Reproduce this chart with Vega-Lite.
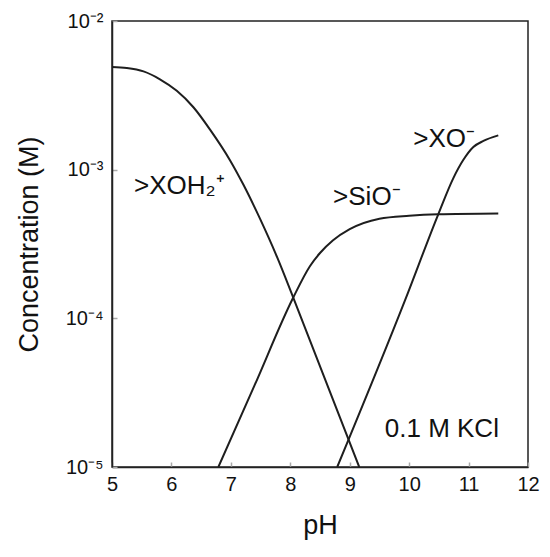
{
  "$schema": "https://vega.github.io/schema/vega-lite/v6.json",
  "description": "Surface species concentration versus pH, 0.1 M KCl",
  "width": 416,
  "height": 446,
  "autosize": {"type": "none"},
  "padding": {"left": 112, "top": 21, "right": 22, "bottom": 90},
  "background": "white",
  "datasets": {
    "curves": [
      {"species": "XOH2+", "pH": 5.0, "conc": 0.00491},
      {"species": "XOH2+", "pH": 5.25, "conc": 0.00483},
      {"species": "XOH2+", "pH": 5.53, "conc": 0.00458},
      {"species": "XOH2+", "pH": 5.8, "conc": 0.00407},
      {"species": "XOH2+", "pH": 6.09, "conc": 0.00339},
      {"species": "XOH2+", "pH": 6.37, "conc": 0.00263},
      {"species": "XOH2+", "pH": 6.65, "conc": 0.00186},
      {"species": "XOH2+", "pH": 6.99, "conc": 0.00115},
      {"species": "XOH2+", "pH": 7.21, "conc": 0.000794},
      {"species": "XOH2+", "pH": 7.49, "conc": 0.000468},
      {"species": "XOH2+", "pH": 7.78, "conc": 0.000257},
      {"species": "XOH2+", "pH": 8.05, "conc": 0.000138},
      {"species": "XOH2+", "pH": 9.16, "conc": 0.00001},
      {"species": "SiO-", "pH": 6.79, "conc": 0.00001},
      {"species": "SiO-", "pH": 7.4, "conc": 0.0000355},
      {"species": "SiO-", "pH": 8.05, "conc": 0.000138},
      {"species": "SiO-", "pH": 8.33, "conc": 0.000224},
      {"species": "SiO-", "pH": 8.5, "conc": 0.000275},
      {"species": "SiO-", "pH": 8.72, "conc": 0.000335},
      {"species": "SiO-", "pH": 9.0, "conc": 0.000398},
      {"species": "SiO-", "pH": 9.5, "conc": 0.000468},
      {"species": "SiO-", "pH": 10.0, "conc": 0.00049},
      {"species": "SiO-", "pH": 10.49, "conc": 0.000501},
      {"species": "SiO-", "pH": 11.5, "conc": 0.000507},
      {"species": "XO-", "pH": 8.79, "conc": 0.00001},
      {"species": "XO-", "pH": 9.93, "conc": 0.000132},
      {"species": "XO-", "pH": 10.49, "conc": 0.000501},
      {"species": "XO-", "pH": 10.74, "conc": 0.000871},
      {"species": "XO-", "pH": 10.91, "conc": 0.00116},
      {"species": "XO-", "pH": 11.08, "conc": 0.00142},
      {"species": "XO-", "pH": 11.25, "conc": 0.00156},
      {"species": "XO-", "pH": 11.5, "conc": 0.0017}
    ],
    "labels": [
      {"text": ">XOH₂⁺", "pH": 5.37, "conc": 0.000684},
      {"text": ">SiO⁻", "pH": 8.72, "conc": 0.000577},
      {"text": ">XO⁻", "pH": 10.07, "conc": 0.00141},
      {"text": "0.1 M KCl", "pH": 9.59, "conc": 0.0000159}
    ]
  },
  "layer": [
    {
      "data": {"name": "curves"},
      "mark": {"type": "line", "interpolate": "monotone", "color": "#1e1e1e", "strokeWidth": 2, "clip": true},
      "encoding": {
        "x": {
          "field": "pH",
          "type": "quantitative",
          "scale": {"domain": [5, 12], "nice": false},
          "axis": {
            "values": [5, 6, 7, 8, 9, 10, 11, 12],
            "format": "d",
            "title": "pH",
            "titleFontSize": 27,
            "titleFontWeight": "normal",
            "titleColor": "#111",
            "titlePadding": 18,
            "labelFontSize": 20,
            "labelColor": "#111",
            "labelPadding": 12,
            "labelFlush": false,
            "labelOverlap": false,
            "tickSize": -5,
            "tickColor": "#aaa",
            "tickWidth": 1.5,
            "domainColor": "#222",
            "domainWidth": 1.5,
            "grid": false
          }
        },
        "y": {
          "field": "conc",
          "type": "quantitative",
          "scale": {"type": "log", "domain": [0.00001, 0.01], "nice": false},
          "axis": {
            "values": [0.00001, 0.0001, 0.001, 0.01],
            "labelExpr": "datum.value > 0.005 ? '10⁻²' : datum.value > 0.0005 ? '10⁻³' : datum.value > 0.00005 ? '10⁻⁴' : '10⁻⁵'",
            "title": "Concentration (M)",
            "titleFontSize": 27,
            "titleFontWeight": "normal",
            "titleColor": "#111",
            "titlePadding": 22,
            "labelFontSize": 20,
            "labelColor": "#111",
            "labelPadding": 14,
            "labelFlush": false,
            "labelOverlap": false,
            "tickSize": -5,
            "tickColor": "#aaa",
            "tickWidth": 1.5,
            "domainColor": "#222",
            "domainWidth": 1.5,
            "grid": false
          }
        },
        "detail": {"field": "species", "type": "nominal"}
      }
    },
    {
      "data": {"name": "labels"},
      "mark": {"type": "text", "align": "left", "baseline": "alphabetic", "fontSize": 26, "color": "#111"},
      "encoding": {
        "x": {"field": "pH", "type": "quantitative"},
        "y": {"field": "conc", "type": "quantitative"},
        "text": {"field": "text"}
      }
    }
  ],
  "config": {
    "font": "Liberation Sans",
    "view": {"stroke": "#222", "strokeWidth": 1.5}
  }
}
